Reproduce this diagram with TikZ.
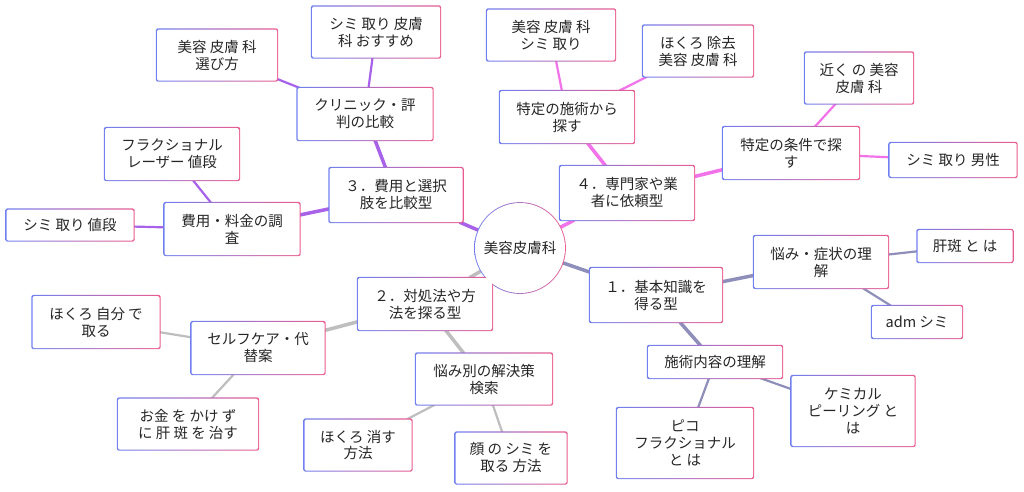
\documentclass[tikz,border=0pt]{standalone}
\usepackage{fontspec}
\setmainfont{Noto Sans CJK JP}
\usetikzlibrary{backgrounds}
\definecolor{bl}{HTML}{7080F0}
\definecolor{pk}{HTML}{EA5C90}
\definecolor{gA}{HTML}{8E8EBA}
\definecolor{gB}{HTML}{BEBEBE}
\definecolor{gC}{HTML}{A862EA}
\definecolor{gD}{HTML}{F272EA}
\tikzset{
 box/.style={rectangle,fill=white,align=center,inner sep=2pt,rounded corners=1.5pt,font=\fontsize{14.5}{17}\selectfont,text=black!85},
 e1/.style={line width=3.5pt},
 e2/.style={line width=2.2pt},
}
\newcommand{\bd}[1]{\shade[left color=bl,right color=pk,rounded corners=2pt] ([shift={(-0.9pt,-0.9pt)}]#1.south west) rectangle ([shift={(0.9pt,0.9pt)}]#1.north east);}
\begin{document}
\begin{tikzpicture}[x=1pt,y=-1pt]
\useasboundingbox (0,0) rectangle (1024,491);
\node[circle,fill=white,minimum size=90pt,inner sep=0,font=\fontsize{14.5}{17}\selectfont,text=black!85] (c) at (520,248) {美容皮膚科};
\node[box,minimum width=132pt,minimum height=54pt] (n1) at (656,295) {１．基本知識を\\得る型};
\node[box,minimum width=134pt,minimum height=52pt] (n2) at (425,304) {２．対処法や方\\法を探る型};
\node[box,minimum width=133pt,minimum height=54pt] (n3) at (396,195) {３．費用と選択\\肢を比較型};
\node[box,minimum width=134pt,minimum height=54pt] (n4) at (627,193) {４．専門家や業\\者に依頼型};
\node[box,minimum width=134pt,minimum height=52pt] (a1) at (821,262) {悩み・症状の理\\解};
\node[box,minimum width=95pt,minimum height=32pt] (a11) at (965,246) {肝斑 と は};
\node[box,minimum width=90pt,minimum height=32pt] (a12) at (917,322) {adm シミ};
\node[box,minimum width=134pt,minimum height=32pt] (a2) at (715,362) {施術内容の理解};
\node[box,minimum width=123pt,minimum height=70pt] (a21) at (853,411) {ケミカル\\ピーリング と\\は};
\node[box,minimum width=136pt,minimum height=70pt] (a22) at (685,443) {ピコ\\フラクショナル\\と は};
\node[box,minimum width=136pt,minimum height=51pt] (b1) at (484,379) {悩み別の解決策\\検索};
\node[box,minimum width=107pt,minimum height=51pt] (b11) at (358,445) {ほくろ 消す\\方法};
\node[box,minimum width=111pt,minimum height=51pt] (b12) at (511,458) {顔 の シミ を\\取る 方法};
\node[box,minimum width=133pt,minimum height=52pt] (b2) at (258,348) {セルフケア・代\\替案};
\node[box,minimum width=127pt,minimum height=52pt] (b21) at (96,322) {ほくろ 自分 で\\取る};
\node[box,minimum width=140pt,minimum height=51pt] (b22) at (188,424) {お金 を かけ ず\\に 肝 斑 を 治す};
\node[box,minimum width=135pt,minimum height=52pt] (c1) at (232,229) {費用・料金の調\\査};
\node[box,minimum width=127pt,minimum height=31pt] (c11) at (70,225) {シミ 取り 値段};
\node[box,minimum width=134pt,minimum height=52pt] (c12) at (172,154) {フラクショナル\\レーザー 値段};
\node[box,minimum width=135pt,minimum height=52pt] (c2) at (365,114) {クリニック・評\\判の比較};
\node[box,minimum width=120pt,minimum height=51pt] (c21) at (217,55) {美容 皮膚 科\\選び方};
\node[box,minimum width=128pt,minimum height=51pt] (c22) at (376,32) {シミ 取り 皮膚\\科 おすすめ};
\node[box,minimum width=134pt,minimum height=52pt] (d1) at (567,117) {特定の施術から\\探す};
\node[box,minimum width=128pt,minimum height=51pt] (d11) at (551,35) {美容 皮膚 科\\シミ 取り};
\node[box,minimum width=110pt,minimum height=51pt] (d12) at (698,51) {ほくろ 除去\\美容 皮膚 科};
\node[box,minimum width=136pt,minimum height=52pt] (d2) at (791,153) {特定の条件で探\\す};
\node[box,minimum width=108pt,minimum height=51pt] (d21) at (859,78) {近く の 美容\\皮膚 科};
\node[box,minimum width=127pt,minimum height=34pt] (d22) at (953,160) {シミ 取り 男性};
\begin{scope}[on background layer]
\draw[gA,e1] (c)--(n1); \draw[gA,e1] (n1)--(a1); \draw[gA,e1] (n1)--(a2);
\draw[gA,e2] (a1)--(a11); \draw[gA,e2] (a1)--(a12); \draw[gA,e2] (a2)--(a21); \draw[gA,e2] (a2)--(a22);
\draw[gB,e1] (c)--(n2); \draw[gB,e1] (n2)--(b1); \draw[gB,e1] (n2)--(b2);
\draw[gB,e2] (b1)--(b11); \draw[gB,e2] (b1)--(b12); \draw[gB,e2] (b2)--(b21); \draw[gB,e2] (b2)--(b22);
\draw[gC,e1] (c)--(n3); \draw[gC,e1] (n3)--(c1); \draw[gC,e1] (n3)--(c2);
\draw[gC,e2] (c1)--(c11); \draw[gC,e2] (c1)--(c12); \draw[gC,e2] (c2)--(c21); \draw[gC,e2] (c2)--(c22);
\draw[gD,e1] (c)--(n4); \draw[gD,e1] (n4)--(d1); \draw[gD,e1] (n4)--(d2);
\draw[gD,e2] (d1)--(d11); \draw[gD,e2] (d1)--(d12); \draw[gD,e2] (d2)--(d21); \draw[gD,e2] (d2)--(d22);
\shade[left color=bl,right color=pk] (c.center) circle (45.9pt);
\foreach \n in {n1,n2,n3,n4,a1,a11,a12,a2,a21,a22,b1,b11,b12,b2,b21,b22,c1,c11,c12,c2,c21,c22,d1,d11,d12,d2,d21,d22}{\bd{\n}}
\end{scope}
\end{tikzpicture}
\end{document}
